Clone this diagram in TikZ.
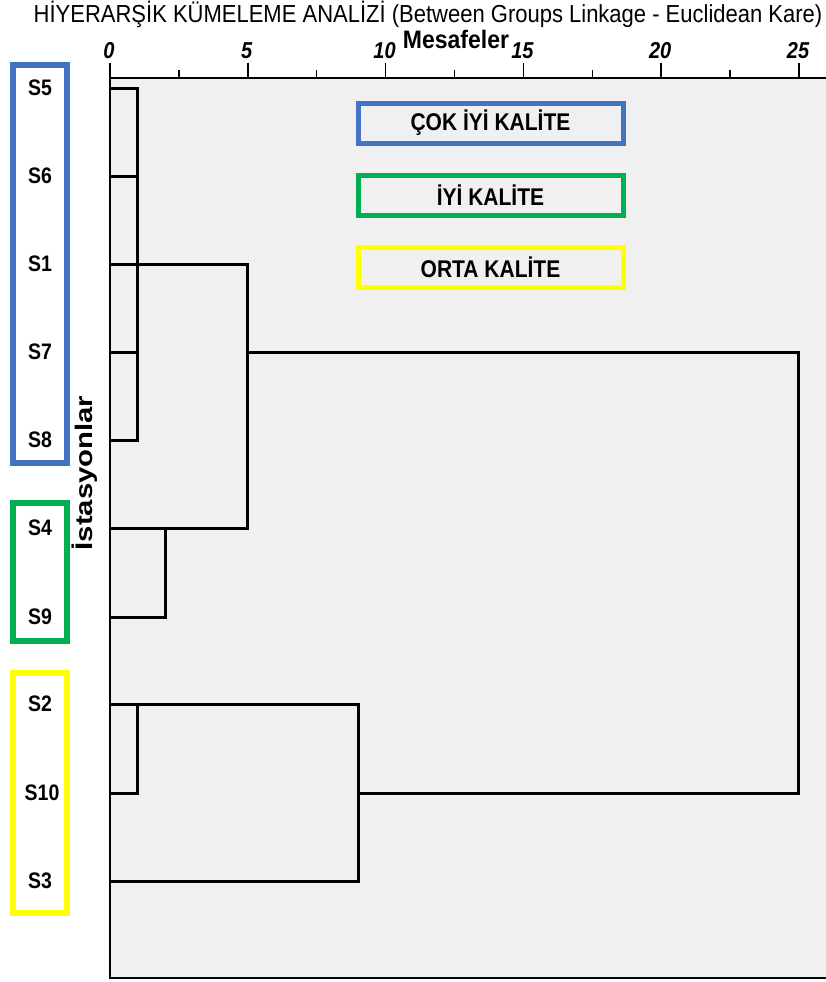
\documentclass[tikz,border=0pt]{standalone}
\usepackage{fontspec}
\setmainfont{Liberation Sans}
\usetikzlibrary{calc}
\definecolor{cokiyi}{HTML}{4472C4}
\definecolor{iyi}{HTML}{00B050}
\definecolor{orta}{HTML}{FFFF00}
\definecolor{plotbg}{HTML}{F0F0F0}
\def\fs#1{\fontsize{#1}{#1}\selectfont}
\def\tall#1{\scalebox{1}[1.15]{#1}}
\tikzset{
	lnk/.style={line width=3pt, line join=miter},
	leaf/.style={font=\fs{19.5}\bfseries, inner sep=0pt},
	grpbox/.style={line width=5.5pt},
	legbox/.style={draw=#1, line width=5pt, fill=plotbg, minimum width=265pt, minimum height=40pt, font=\fs{21}\bfseries}
}

\begin{document}
\begin{tikzpicture}[x=1pt, y=-1pt]
			%%%%% START %%%%%
			\useasboundingbox (0, 0) rectangle (826, 982);
			
			\fill[white] (0, 0) rectangle (826, 982);
			\fill[plotbg] (110, 78) rectangle (826, 978);
			
			\node[font=\fs{22}, inner sep=0pt] (title) at (428, 14) {\scalebox{1}[1.12]{HİYERARŞİK KÜMELEME ANALİZİ (Between Groups Linkage - Euclidean Kare)}};
			\node[font=\fs{23}\bfseries, inner sep=0pt] (mesafe) at (456, 39) {\scalebox{1}[1.1]{Mesafeler}};
			
			\draw[line width=1.8pt] (826, 78) -- (110, 78) -- (110, 978) -- (826, 978);
			\foreach \d in {0, 5, ..., 25} {
				\draw[line width=1.6pt] ({110 + 27.56*\d}, 78) -- ({110 + 27.56*\d}, 63);
				\node[font=\fs{20}\bfseries\itshape] (tick\d) at ({109 + 27.56*\d}, 51) {\tall{\d}};
			}
			\foreach \d in {2.5, 7.5, ..., 22.5}
				\draw[line width=1.4pt] ({110 + 27.56*\d}, 78) -- ({110 + 27.56*\d}, 70);
			
			\node[font=\fs{24}\bfseries, rotate=90] (istasyon) at (85, 473) {\scalebox{1.22}[1]{İstasyonlar}};
			
			\node[leaf] (s5) at (40, 88) {\tall{S5}};
			\node[leaf] (s6) at (40, 176) {\tall{S6}};
			\node[leaf] (s1) at (40, 264) {\tall{S1}};
			\node[leaf] (s7) at (40, 352) {\tall{S7}};
			\node[leaf] (s8) at (40, 440) {\tall{S8}};
			\node[leaf] (s4) at (40, 528) {\tall{S4}};
			\node[leaf] (s9) at (40, 617) {\tall{S9}};
			\node[leaf] (s2) at (40, 704) {\tall{S2}};
			\node[leaf] (s10) at (42, 793) {\tall{S10}};
			\node[leaf] (s3) at (40, 881) {\tall{S3}};
			
			\draw[grpbox, draw=cokiyi] (13, 65) rectangle (67, 463);
			\draw[grpbox, draw=iyi] (13, 503) rectangle (67, 641);
			\draw[grpbox, draw=orta] (13, 673) rectangle (67, 913);
			
			\draw[lnk] (110, 88) -- (137, 88) -- (137, 440) -- (110, 440);
			\draw[lnk] (110, 176) -- (137, 176);
			\draw[lnk] (110, 352) -- (137, 352);
			\draw[lnk] (110, 528) -- (165, 528) -- (165, 617) -- (110, 617);
			\draw[lnk] (110, 264) -- (247, 264) -- (247, 528) -- (165, 528);
			\draw[lnk] (110, 704) -- (137, 704) -- (137, 793) -- (110, 793);
			\draw[lnk] (137, 704) -- (358, 704) -- (358, 881) -- (110, 881);
			\draw[lnk] (247, 352) -- (798, 352) -- (798, 793) -- (358, 793);
			
			\node[legbox=cokiyi] (leg-cok) at (490.5, 123) {\tall{ÇOK İYİ KALİTE}};
			\node[legbox=iyi] (leg-iyi) at (490.5, 195) {\tall{İYİ KALİTE}};
			\node[legbox=orta] (leg-orta) at (490.5, 267) {\tall{ORTA KALİTE}};
			
			%%%%% END %%%%%
		\end{tikzpicture}
\end{document}
